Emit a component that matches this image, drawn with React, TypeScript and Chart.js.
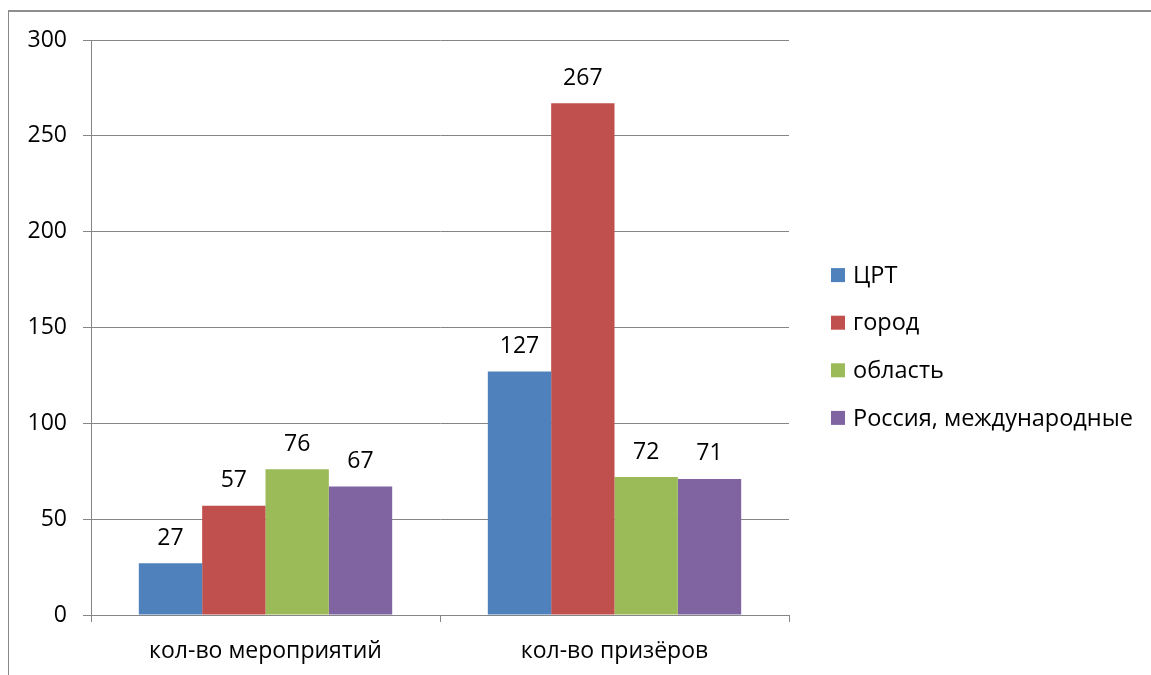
import React, { useEffect, useRef } from "react";
import { Chart, registerables } from "chart.js";

Chart.register(...registerables);

const categories = ["кол-во мероприятий", "кол-во призёров"];
const seriesNames = ["ЦРТ", "город", "область", "Россия, международные"];
const seriesColors = ["#4F81BD", "#C0504D", "#9BBB59", "#8064A2"];
const valuesCRT = [27, 127];
const valuesCity = [57, 267];
const valuesRegion = [76, 72];
const valuesRussia = [67, 71];
const yTicks = [0, 50, 100, 150, 200, 250, 300];

const FONT = "'Open Sans', 'DejaVu Sans', sans-serif";
const FONT_SIZE = 23;
const LEGEND_FONT_SIZE = 23.5;

const valueLabelPlugin = {
  id: "valueLabels",
  afterDatasetsDraw(chart: any) {
    const ctx = chart.ctx;
    ctx.save();
    ctx.font = `${FONT_SIZE}px ${FONT}`;
    ctx.fillStyle = "#000";
    ctx.textAlign = "center";
    ctx.textBaseline = "alphabetic";
    chart.data.datasets.forEach((ds: any, i: number) => {
      const meta = chart.getDatasetMeta(i);
      meta.data.forEach((bar: any, j: number) => {
        ctx.fillText(String(ds.data[j]), bar.x, bar.y - 18.5);
      });
    });
    ctx.restore();
  },
};

const customLegendPlugin = {
  id: "customLegend",
  afterDraw(chart: any) {
    const ctx = chart.ctx;
    const area = chart.chartArea;
    const x0 = area.right + 42;
    const step = 47.6;
    const n = chart.data.datasets.length;
    const cy = 346.5;
    const startY = cy - ((n - 1) * step) / 2;
    ctx.save();
    ctx.font = `${LEGEND_FONT_SIZE}px ${FONT}`;
    ctx.textAlign = "left";
    ctx.textBaseline = "middle";
    chart.data.datasets.forEach((ds: any, i: number) => {
      const y = startY + i * step;
      ctx.fillStyle = ds.backgroundColor;
      ctx.fillRect(x0, y - 7, 14, 14);
      ctx.fillStyle = "#000";
      ctx.fillText(ds.label, x0 + 22, y + 1);
    });
    ctx.restore();
  },
};

export default function App() {
  const canvasRef = useRef<HTMLCanvasElement | null>(null);

  useEffect(() => {
    if (!canvasRef.current) return;
    const seriesValues = [valuesCRT, valuesCity, valuesRegion, valuesRussia];
    const chart = new Chart(canvasRef.current, {
      type: "bar",
      data: {
        labels: categories,
        datasets: seriesNames.map((name, i) => ({
          label: name,
          data: seriesValues[i],
          backgroundColor: seriesColors[i],
          borderWidth: 0,
          barPercentage: 1,
          categoryPercentage: 0.726,
        })),
      },
      options: {
        animation: false,
        responsive: false,
        maintainAspectRatio: false,
        layout: { padding: { left: 0, top: 40, right: 362, bottom: 10 } },
        plugins: {
          legend: { display: false },
          tooltip: { enabled: false },
          title: { display: false },
        },
        scales: {
          x: {
            grid: {
              display: true,
              offset: true,
              drawOnChartArea: false,
              drawTicks: true,
              tickLength: 7,
              color: "#868686",
            },
            border: { display: true, color: "#868686", width: 1 },
            ticks: {
              color: "#000",
              font: { family: FONT, size: FONT_SIZE },
              padding: 16,
            },
            afterFit(scale: any) {
              scale.height = 50;
            },
          },
          y: {
            min: 0,
            max: 300,
            afterBuildTicks(scale: any) {
              scale.ticks = yTicks.map((v) => ({ value: v }));
            },
            grid: {
              color: "#868686",
              tickLength: 8,
              drawTicks: true,
            },
            border: { display: true, color: "#868686", width: 1 },
            ticks: {
              color: "#000",
              font: { family: FONT, size: FONT_SIZE },
              padding: 16,
            },
            afterFit(scale: any) {
              scale.width = 91;
            },
          },
        },
      },
      plugins: [valueLabelPlugin, customLegendPlugin],
    });
    return () => chart.destroy();
  }, []);

  return (
    <div>
      <div
        style={{
          position: "absolute",
          left: 8,
          top: 10,
          width: 1160,
          height: 680,
          borderLeft: "1px solid #898989",
          borderTop: "2px solid #8f8f8f",
          boxSizing: "border-box",
        }}
      />
      <canvas
        ref={canvasRef}
        width={1151}
        height={675}
        style={{ position: "absolute", left: 0, top: 0, width: 1151, height: 675 }}
      />
    </div>
  );
}
